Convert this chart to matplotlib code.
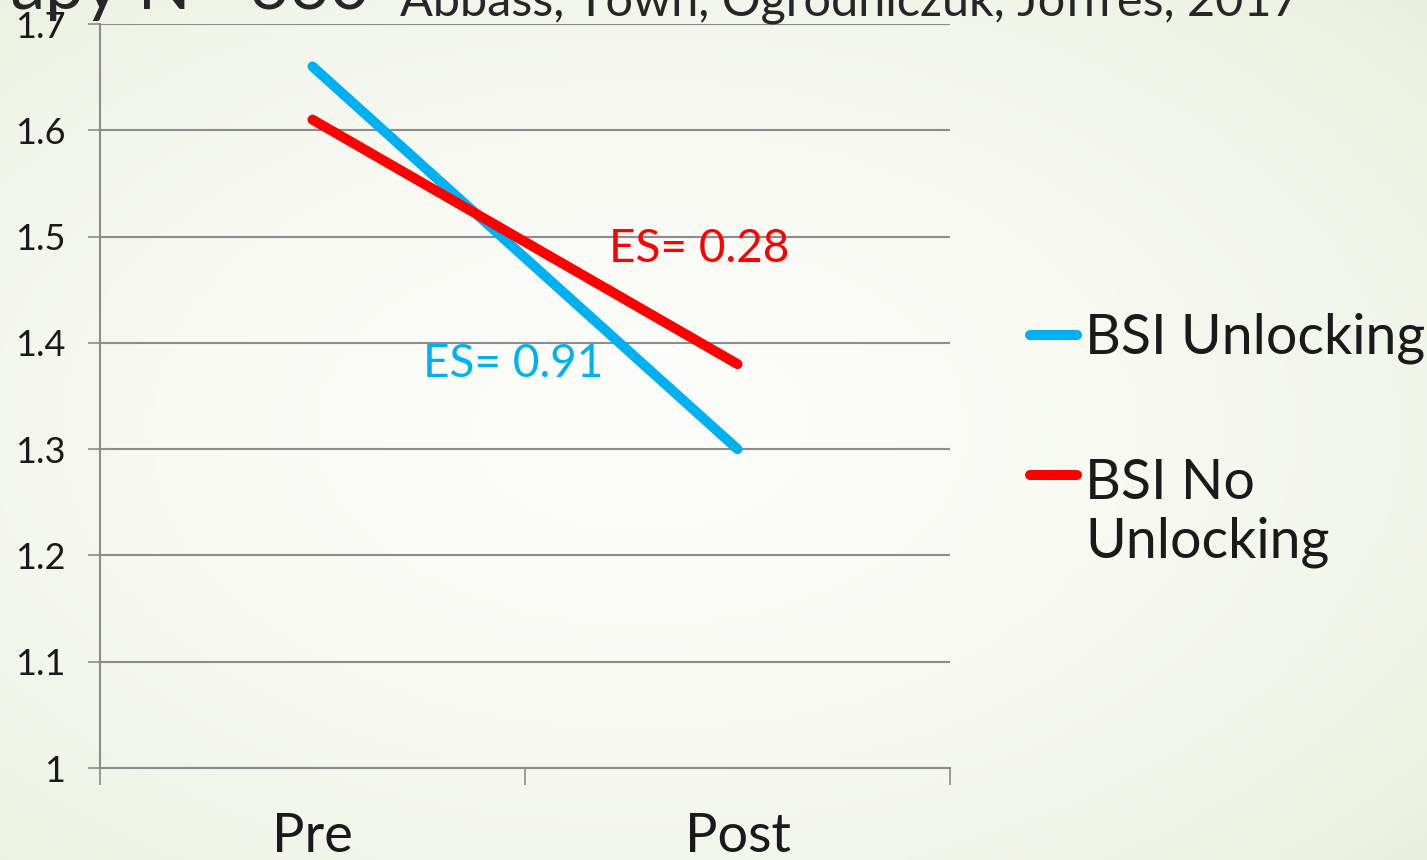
import numpy as np
import matplotlib.pyplot as plt
from matplotlib.lines import Line2D

# BSI scores before and after treatment
phases = ['Pre', 'Post']
unlocking = [1.66, 1.30]
no_unlocking = [1.61, 1.38]
series_labels = ['BSI Unlocking', 'BSI No\nUnlocking']
effect_sizes = ['ES= 0.91', 'ES= 0.28']
y_ticks = [1.0, 1.1, 1.2, 1.3, 1.4, 1.5, 1.6, 1.7]
y_tick_labels = ['1', '1.1', '1.2', '1.3', '1.4', '1.5', '1.6', '1.7']

BLUE = '#00B0F0'
RED = '#FF0000'
GRID = '#8C8C8C'
INK = '#1A1A1A'

plt.rcParams['font.family'] = ['Lato', 'DejaVu Sans']

W, H = 1427, 860
fig = plt.figure(figsize=(W / 100, H / 100), dpi=100)


def fx(px):
    return px / W


def fy(py):
    return 1 - py / H


# pale green slide background, lighter in the middle
bg = fig.add_axes([0, 0, 1, 1], zorder=-10)
yy, xx = np.mgrid[0:1:200j, 0:1:330j]
r = np.clip(np.sqrt(((xx - 0.45) / 0.8) ** 2 + ((yy - 0.5) / 0.8) ** 2), 0, 1)
c0 = np.array([0.992, 0.992, 0.982])
c1 = np.array([0.91, 0.935, 0.855])
bg.imshow(c0 + (c1 - c0) * r[..., None] ** 1.6, aspect='auto', extent=[0, 1, 0, 1])
bg.axis('off')

ax = fig.add_axes([fx(100), fy(768), fx(950) - fx(100), fy(24) - fy(768)])
ax.set_facecolor('none')

x = np.arange(len(phases))
ax.plot(x, unlocking, color=BLUE, lw=7.2, solid_capstyle='round', zorder=3)
ax.plot(x, no_unlocking, color=RED, lw=7.2, solid_capstyle='round', zorder=3)

ax.set_xlim(-0.5, 1.5)
ax.set_ylim(1, 1.7)
ax.set_yticks(y_ticks)
ax.set_yticklabels(y_tick_labels, color=INK)
ax.grid(axis='y', color=GRID, lw=1.5)
ax.set_axisbelow(True)

# category boundaries get tick marks, the names sit between them
ax.set_xticks([-0.5, 0.5, 1.5])
ax.set_xticklabels([])
ax.set_xticks(x, minor=True)
ax.set_xticklabels(phases, minor=True, fontsize=39, color=INK)
ax.tick_params(axis='x', which='major', length=12, width=1.2, color=GRID)
ax.tick_params(axis='x', which='minor', length=0, pad=32)
ax.tick_params(axis='y', length=9, width=1.2, color=GRID, labelsize=26, pad=16)
for s in ['top', 'right']:
    ax.spines[s].set_visible(False)
for s in ['left', 'bottom']:
    ax.spines[s].set_color(GRID)
    ax.spines[s].set_linewidth(1.5)

# effect size labels
ax.text(0.26, 1.368, effect_sizes[0], color=BLUE, fontsize=33, va='baseline')
ax.text(0.698, 1.476, effect_sizes[1], color=RED, fontsize=33, va='baseline')

# legend drawn by hand so the key lines up with the first line of text
for col, lab, py, base in [(BLUE, series_labels[0], 335, 353),
                           (RED, series_labels[1], 475, 558)]:
    fig.add_artist(Line2D([fx(1030), fx(1077)], [fy(py), fy(py)], color=col,
                          lw=7.2, solid_capstyle='round'))
    fig.text(fx(1085), fy(base), lab, fontsize=40, color=INK, va='baseline',
             linespacing=1.2)

# slide heading, partly cut off at the top edge
fig.text(fx(370), fy(9), 'Therapy N= 660', ha='right', va='baseline',
         fontsize=50, color='#262626', zorder=5)
fig.text(fx(400), fy(16), 'Abbass, Town, Ogrodniczuk, Joffres, 2017',
         va='baseline', fontsize=35, color='#262626', zorder=5)

fig.savefig('out.png', dpi=100)
